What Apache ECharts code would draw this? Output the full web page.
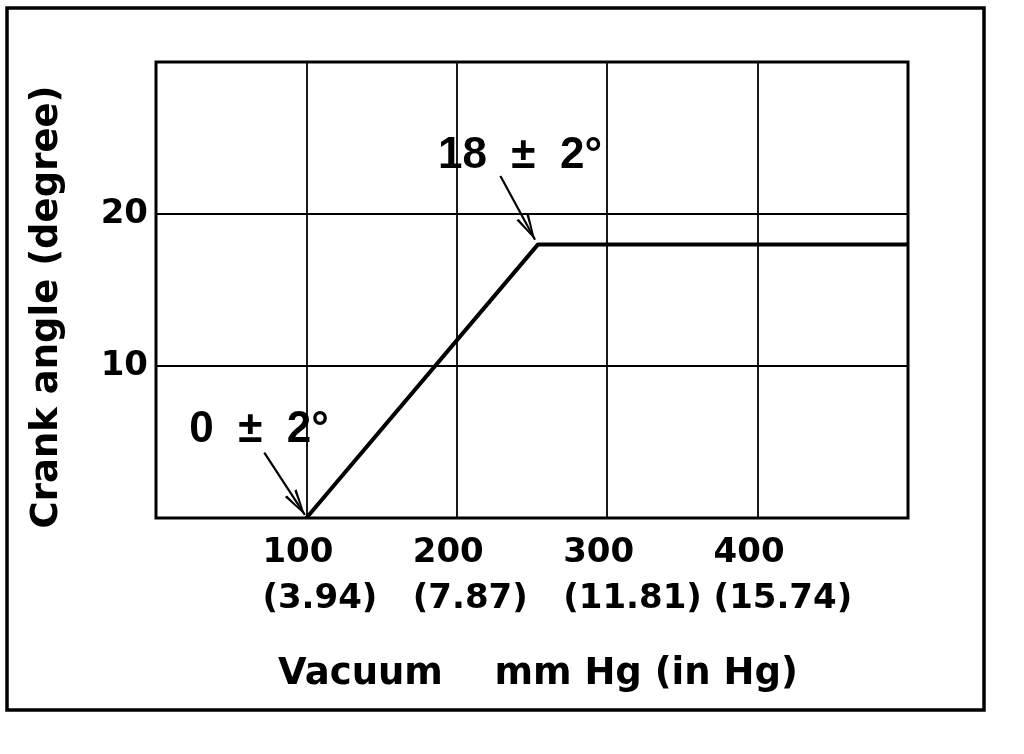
<!DOCTYPE html>
<html><head><meta charset="utf-8">
<script src="https://cdn.jsdelivr.net/npm/echarts@6/dist/echarts.min.js"></script>
<style>html,body{margin:0;padding:0;background:#fff}#c{width:1024px;height:754px}</style>
</head><body><div id="c"></div>
<script>
// Tick labels
const xTickValues = [100, 200, 300, 400];
const xTickInHg = ['3.94', '7.87', '11.81', '15.74'];
const yTickValues = [10, 20];
// Curve: vacuum (mm Hg) vs crank angle (degree)
const vacuum = [100, 254, 500];
const crankAngle = [0, 18, 18];
// Annotations
const annoText = ['18  \u00b1  2\u00b0', '0  \u00b1  2\u00b0'];
const annoTextPos = [[242, 23.8], [68.5, 5.8]];
const arrowStart = [[229, 22.5], [72, 4.3]];
const arrowEnd = [[252, 18.3], [99, 0.2]];

const FONT = 'DejaVu Sans';
const ANNO_FONT = 'Liberation Sans';
const chart = echarts.init(document.getElementById('c'), null, {renderer: 'canvas'});

// open V arrowhead, tip at the centre of a 52x52 box
const arrowPath = 'path://M0,0 L0.05,0 L0,0.05 Z M52,52 L51.95,52 L52,51.95 Z M26,26 L19,52 L21.6,52 L26,32 L30.4,52 L33,52 Z';

chart.setOption({
  animation: false,
  backgroundColor: '#fff',
  grid: {left: 156, top: 62, right: 116, bottom: 236, show: true, borderColor: '#000', borderWidth: 3, backgroundColor: 'transparent'},
  graphic: [{
    type: 'rect', shape: {x: 7, y: 8, width: 977, height: 702},
    style: {fill: 'none', stroke: '#000', lineWidth: 3.5}, silent: true, z: 0
  }],
  xAxis: {
    type: 'value', min: 0, max: 500, interval: 100,
    axisLine: {show: false}, axisTick: {show: false},
    splitLine: {show: true, lineStyle: {color: '#000', width: 1.8}},
    axisLabel: {
      margin: 12,
      formatter: function (v) {
        const i = xTickValues.indexOf(v);
        if (i < 0) return '';
        return '{a|' + v + '}\n{a|(' + xTickInHg[i] + ')}';
      },
      rich: {a: {fontFamily: FONT, fontWeight: 'bold', fontSize: 34, lineHeight: 46, color: '#000', width: 88, align: 'left'}}
    },
    name: 'Vacuum    mm Hg (in Hg)', nameLocation: 'middle', nameGap: 138,
    nameTextStyle: {fontFamily: FONT, fontWeight: 'bold', fontSize: 37, color: '#000', padding: [0, 0, 0, 12]}
  },
  yAxis: {
    type: 'value', min: 0, max: 30, interval: 10,
    axisLine: {show: false}, axisTick: {show: false},
    splitLine: {show: true, lineStyle: {color: '#000', width: 1.8}},
    axisLabel: {
      margin: 8, color: '#000', fontFamily: FONT, fontWeight: 'bold', fontSize: 34,
      formatter: function (v) { return yTickValues.indexOf(v) >= 0 ? String(v) : ''; }
    },
    name: 'Crank angle (degree)', nameLocation: 'middle', nameGap: 90,
    nameTextStyle: {fontFamily: FONT, fontWeight: 'bold', fontSize: 37, color: '#000', padding: [0, 34, 0, 0]}
  },
  series: [{
    type: 'line',
    data: vacuum.map((x, i) => [x, crankAngle[i]]),
    symbol: 'none',
    lineStyle: {color: '#000', width: 4},
    markLine: {
      silent: true,
      symbol: ['none', arrowPath],
      symbolSize: 52,
      lineStyle: {color: '#000', width: 2.2, type: 'solid'},
      label: {show: false},
      data: arrowStart.map((s, i) => [{coord: s}, {coord: arrowEnd[i]}])
    },
    markPoint: {
      silent: true,
      symbol: 'rect', symbolSize: 1,
      itemStyle: {color: 'rgba(0,0,0,0)'},
      label: {show: true, position: 'inside', color: '#000', fontFamily: ANNO_FONT, fontWeight: 'bold', fontSize: 44,
        formatter: p => p.name},
      data: annoText.map((t, i) => ({name: t, coord: annoTextPos[i]}))
    }
  }]
});
</script></body></html>
